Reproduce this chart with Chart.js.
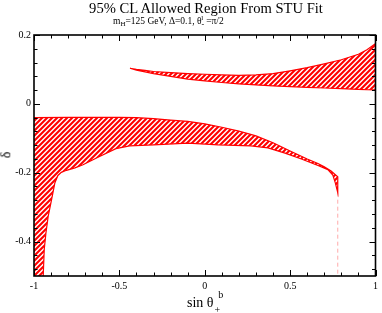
<!DOCTYPE html>
<html>
<head>
<meta charset="utf-8">
<script src="https://cdn.jsdelivr.net/npm/chart.js@4"></script>
<style>
  body { margin: 0; background: #fff; }
  #wrap { position: relative; width: 382px; height: 313px; font-family: "Liberation Serif", "DejaVu Serif", serif; color: #000; }
  #wrap canvas { position: absolute; left: 0; top: 0; }
  .txt { position: absolute; white-space: nowrap; line-height: 1; }
  .sh { position: relative; }
</style>
</head>
<body>
<div id="wrap">
  <canvas id="my_chart" width="382" height="313"></canvas>
  <div class="txt" id="title" style="left:0;width:412px;text-align:center;top:1px;font-size:14.6px;">95% CL Allowed Region From STU Fit</div>
  <div class="txt" id="subtitle" style="left:113px;top:17px;font-size:9.5px;">m<span class="sh" style="font-size:7px;top:2px">H</span>=125 GeV, &Delta;=0.1, &theta;<span class="sh" style="font-size:8px;top:3px">-</span><span class="sh" style="font-size:7px;top:-4px;left:-3px">l</span>=&pi;/2</div>
  <div class="txt" id="xlabel" style="left:187px;top:296px;font-size:14px;">sin &theta;<span class="sh" style="font-size:10px;top:6px;left:1px">+</span><span class="sh" style="font-size:10px;top:-9px;left:-1px">b</span></div>
  <div class="txt" id="ylabel" style="left:3px;top:148px;font-size:14px;transform:rotate(-90deg);transform-origin:50% 50%;">&delta;</div>
</div>
<script>
// axis ticks (major, labelled)
let x_major = [-1, -0.5, 0, 0.5, 1]
let x_labels = ["-1", "-0.5", "0", "0.5", "1"]
let y_major = [0.2, 0, -0.2, -0.4]
let y_labels = ["0.2", "0", "-0.2", "-0.4"]

// upper allowed band (delta > 0)
let up_x      = [-0.438, -0.4, -0.35, -0.3, -0.2, -0.1, 0, 0.1, 0.2, 0.3, 0.4, 0.5, 0.6, 0.7, 0.8, 0.9, 0.95, 1.0]
let up_top    = [0.1035, 0.100, 0.097, 0.094, 0.091, 0.088, 0.086, 0.084, 0.083, 0.084, 0.088, 0.096, 0.105, 0.116, 0.128, 0.144, 0.157, 0.175]
let up_bottom = [0.1035, 0.098, 0.093, 0.088, 0.080, 0.072, 0.067, 0.062, 0.058, 0.055, 0.052, 0.050, 0.048, 0.046, 0.044, 0.042, 0.041, 0.0405]

// lower allowed band, top edge
let low_top_x = [-1, -0.8, -0.6, -0.5, -0.4, -0.3, -0.2, -0.1, 0, 0.1, 0.2, 0.3, 0.4, 0.5, 0.6, 0.663, 0.7, 0.74, 0.779]
let low_top   = [-0.040, -0.039, -0.039, -0.039, -0.040, -0.043, -0.047, -0.051, -0.058, -0.068, -0.079, -0.093, -0.113, -0.137, -0.160, -0.173, -0.183, -0.195, -0.212]
// lower allowed band, bottom edge
let low_bot_x = [-0.955, -0.946, -0.94, -0.93, -0.917, -0.897, -0.878, -0.86, -0.84, -0.81, -0.76, -0.713, -0.616, -0.52, -0.44, -0.3, -0.1, 0.08, 0.27, 0.37, 0.47, 0.566, 0.663, 0.721, 0.75, 0.765, 0.779]
let low_bot   = [-0.55, -0.5, -0.423, -0.375, -0.327, -0.278, -0.230, -0.208, -0.199, -0.193, -0.186, -0.177, -0.153, -0.130, -0.122, -0.119, -0.114, -0.119, -0.122, -0.128, -0.143, -0.160, -0.179, -0.191, -0.207, -0.230, -0.258]

// dashed edge below the lower band
let dash_x = [0.779, 0.779]
let dash_y = [-0.258, -0.5]

let my_chart = document.querySelector("#my_chart")

function hatch_pattern() {
    let c = document.createElement("canvas")
    c.width = 5
    c.height = 5
    let g = c.getContext("2d")
    g.strokeStyle = "#ff0000"
    g.lineWidth = 2.1
    g.beginPath()
    g.moveTo(-1, 6); g.lineTo(6, -1)
    g.moveTo(-1, 1); g.lineTo(1, -1)
    g.moveTo(4, 6); g.lineTo(6, 4)
    g.stroke()
    return g.createPattern(c, "repeat")
}

function make_polygon(top_x, top_y, bot_x, bot_y, extra) {
    let pts = []
    for (let i = 0; i < top_x.length; i++) pts.push({ x: top_x[i], y: top_y[i] })
    for (let i = bot_x.length - 1; i >= 0; i--) pts.push({ x: bot_x[i], y: bot_y[i] })
    for (let p of extra) pts.push(p)
    return pts
}

function is_major(v, step) {
    return Math.abs(v / step - Math.round(v / step)) < 1e-6
}

// frame with inward ticks on all four sides
let frame_ticks = {
    id: "frame_ticks",
    afterDraw(chart) {
        let ctx = chart.ctx
        let a = chart.chartArea
        let xs = chart.scales.x
        let ys = chart.scales.y
        ctx.save()
        ctx.strokeStyle = "#000"
        ctx.lineWidth = 1
        ctx.beginPath()
        for (let i = 0; i <= 20; i++) {
            let v = -1 + i * 0.1
            let px = Math.round(xs.getPixelForValue(v)) + 0.5
            let len = is_major(v, 0.5) ? 6 : 3.5
            ctx.moveTo(px, a.bottom); ctx.lineTo(px, a.bottom - len)
            ctx.moveTo(px, a.top); ctx.lineTo(px, a.top + len)
        }
        for (let i = 0; i <= 17; i++) {
            let v = 0.2 - i * 0.04
            let py = Math.round(ys.getPixelForValue(v)) + 0.5
            let len = is_major(v, 0.2) ? 6 : 3.5
            ctx.moveTo(a.left, py); ctx.lineTo(a.left + len, py)
            ctx.moveTo(a.right, py); ctx.lineTo(a.right - len, py)
        }
        ctx.stroke()
        ctx.lineWidth = 1.6
        ctx.strokeRect(a.left, a.top, a.right - a.left, a.bottom - a.top)
        ctx.restore()
    }
}

drow_chart()

function drow_chart() {
    let hatch = hatch_pattern()
    let upper_band = make_polygon(up_x, up_top, up_x, up_bottom, [])
    let lower_band = make_polygon(low_top_x, low_top, low_bot_x, low_bot, [{ x: -1, y: -0.55 }])
    let dash_line = dash_x.map((v, i) => ({ x: v, y: dash_y[i] }))

    new Chart(my_chart, {
        type: "scatter",
        data: {
            datasets: [{
                label: "upper band",
                data: upper_band,
                showLine: true,
                fill: "shape",
                backgroundColor: hatch,
                borderColor: "#ff0000",
                borderWidth: 1.2,
                pointRadius: 0
            }, {
                label: "lower band",
                data: lower_band,
                showLine: true,
                fill: "shape",
                backgroundColor: hatch,
                borderColor: "#ff0000",
                borderWidth: 1.2,
                pointRadius: 0
            }, {
                label: "edge",
                data: dash_line,
                showLine: true,
                fill: false,
                borderColor: "#ffaaaa",
                borderWidth: 1,
                borderDash: [4, 3],
                pointRadius: 0
            }]
        },
        options: {
            responsive: false,
            animation: false,
            layout: { padding: { top: 35, right: 4, left: 0, bottom: 0 } },
            plugins: {
                legend: { display: false },
                tooltip: { enabled: false }
            },
            scales: {
                x: {
                    type: "linear",
                    min: -1,
                    max: 1,
                    afterBuildTicks: (s) => { s.ticks = x_major.map(v => ({ value: v })) },
                    afterFit: (s) => { s.height = 37 },
                    grid: { display: false, drawTicks: false },
                    border: { display: false },
                    ticks: {
                        autoSkip: false,
                        maxRotation: 0,
                        padding: 4,
                        color: "#000",
                        font: { family: "Liberation Serif", size: 10 },
                        callback: (v) => x_labels[x_major.indexOf(v)]
                    }
                },
                y: {
                    type: "linear",
                    min: -0.5,
                    max: 0.2,
                    afterBuildTicks: (s) => { s.ticks = y_major.map(v => ({ value: v })) },
                    afterFit: (s) => { s.width = 34 },
                    grid: { display: false, drawTicks: false },
                    border: { display: false },
                    ticks: {
                        autoSkip: false,
                        padding: 3,
                        color: "#000",
                        font: { family: "Liberation Serif", size: 10 },
                        callback: (v) => y_labels[y_major.indexOf(v)]
                    }
                }
            }
        },
        plugins: [frame_ticks]
    })
}
</script>
</body>
</html>
